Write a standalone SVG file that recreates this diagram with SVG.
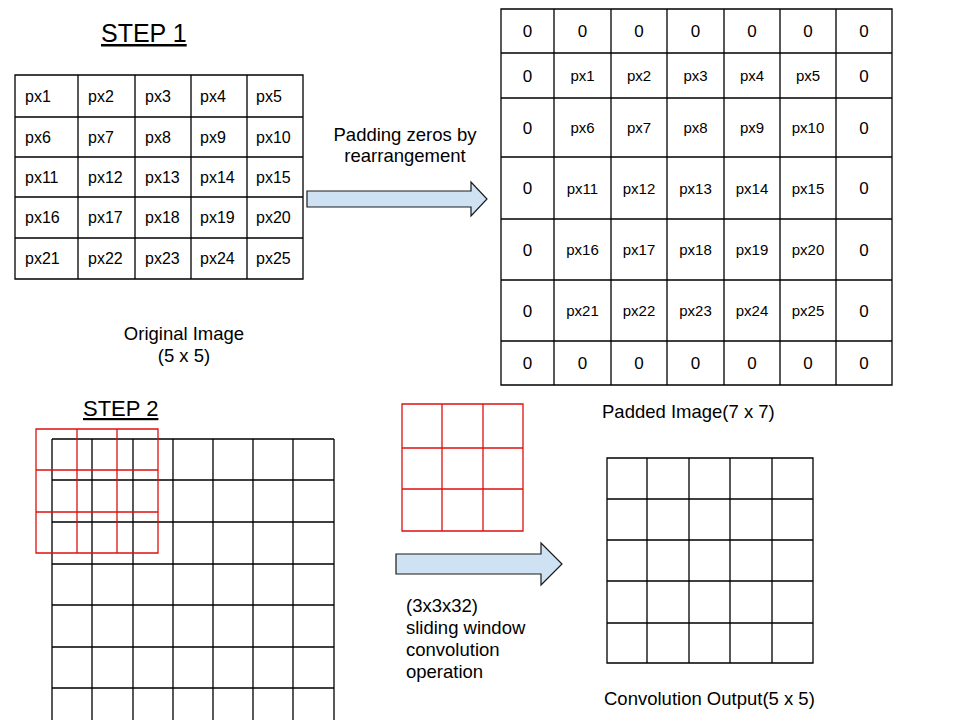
<svg xmlns="http://www.w3.org/2000/svg" width="960" height="720" viewBox="0 0 960 720">
<style>
text{font-family:"Liberation Sans",Arial,sans-serif;fill:#000}
.g{fill:none;stroke:#000;stroke-width:1.3}
.r{fill:none;stroke:#dd1010;stroke-width:1.3}
.arr{fill:#cfe2f3;stroke:#1a1a1a;stroke-width:1.2}
.t16{font-size:16px}
.p15{font-size:15px;text-anchor:middle}
.z17{font-size:17px;text-anchor:middle}
.lbl{font-size:18.5px}
.step{font-size:22px;text-decoration:underline}
</style>
<rect width="960" height="720" fill="#fff"/>

<g id="step1-title"><text class="step" x="101" y="42" style="font-size:25px">STEP 1</text></g>

<g id="original-image">
<path class="g" d="M15,75H303V279H15Z M78,75V279 M135,75V279 M191,75V279 M247,75V279 M15,117H303 M15,157H303 M15,197H303 M15,238H303"/>
<g class="t16">
<text x="25" y="102">px1</text><text x="88" y="102">px2</text><text x="145" y="102">px3</text><text x="200" y="102">px4</text><text x="256" y="102">px5</text>
<text x="25" y="142.5">px6</text><text x="88" y="142.5">px7</text><text x="145" y="142.5">px8</text><text x="200" y="142.5">px9</text><text x="256" y="142.5">px10</text>
<text x="25" y="182.5">px11</text><text x="88" y="182.5">px12</text><text x="145" y="182.5">px13</text><text x="200" y="182.5">px14</text><text x="256" y="182.5">px15</text>
<text x="25" y="223">px16</text><text x="88" y="223">px17</text><text x="145" y="223">px18</text><text x="200" y="223">px19</text><text x="256" y="223">px20</text>
<text x="25" y="264">px21</text><text x="88" y="264">px22</text><text x="145" y="264">px23</text><text x="200" y="264">px24</text><text x="256" y="264">px25</text>
</g>
</g>
<g id="original-label">
<text class="lbl" x="184" y="340" text-anchor="middle">Original Image</text>
<text class="lbl" x="184" y="362" text-anchor="middle">(5 x 5)</text>
</g>

<g id="padded-image">
<path class="g" d="M501,9H892V385H501Z M554,9V385 M611,9V385 M667,9V385 M724,9V385 M780,9V385 M836,9V385 M501,53H892 M501,98H892 M501,157H892 M501,219H892 M501,280H892 M501,341H892"/>
<g class="z17">
<text x="527.5" y="37">0</text><text x="582.5" y="37">0</text><text x="639" y="37">0</text><text x="695.5" y="37">0</text><text x="752" y="37">0</text><text x="808" y="37">0</text><text x="864" y="37">0</text>
<text x="527.5" y="81.5">0</text><text x="864" y="81.5">0</text>
<text x="527.5" y="133.5">0</text><text x="864" y="133.5">0</text>
<text x="527.5" y="194">0</text><text x="864" y="194">0</text>
<text x="527.5" y="255.5">0</text><text x="864" y="255.5">0</text>
<text x="527.5" y="316.5">0</text><text x="864" y="316.5">0</text>
<text x="527.5" y="369">0</text><text x="582.5" y="369">0</text><text x="639" y="369">0</text><text x="695.5" y="369">0</text><text x="752" y="369">0</text><text x="808" y="369">0</text><text x="864" y="369">0</text>
</g>
<g class="p15">
<text x="582.5" y="81">px1</text><text x="639" y="81">px2</text><text x="695.5" y="81">px3</text><text x="752" y="81">px4</text><text x="808" y="81">px5</text>
<text x="582.5" y="133">px6</text><text x="639" y="133">px7</text><text x="695.5" y="133">px8</text><text x="752" y="133">px9</text><text x="808" y="133">px10</text>
<text x="582.5" y="193.5">px11</text><text x="639" y="193.5">px12</text><text x="695.5" y="193.5">px13</text><text x="752" y="193.5">px14</text><text x="808" y="193.5">px15</text>
<text x="582.5" y="255">px16</text><text x="639" y="255">px17</text><text x="695.5" y="255">px18</text><text x="752" y="255">px19</text><text x="808" y="255">px20</text>
<text x="582.5" y="316">px21</text><text x="639" y="316">px22</text><text x="695.5" y="316">px23</text><text x="752" y="316">px24</text><text x="808" y="316">px25</text>
</g>
</g>
<g id="padded-label"><text class="lbl" x="602" y="418">Padded Image(7 x 7)</text></g>

<g id="step2-title"><text class="step" x="83" y="416">STEP 2</text></g>

<g id="step2-grid">
<path class="g" d="M52,439H334 M52,480H334 M52,522H334 M52,564H334 M52,605H334 M52,647H334 M52,688H334 M52,439V720 M92,439V720 M133,439V720 M173,439V720 M213,439V720 M253,439V720 M293,439V720 M334,439V720"/>
</g>
<g id="window-overlay">
<path class="r" d="M36,429H158V553H36Z M77,429V553 M117,429V553 M36,470H158 M36,512H158"/>
</g>

<g id="kernel">
<path class="r" d="M402,404H523V531H402Z M442,404V531 M483,404V531 M402,448H523 M402,489H523"/>
</g>

<g id="output-grid">
<path class="g" d="M607,458H813V663H607Z M647,458V663 M689,458V663 M730,458V663 M772,458V663 M607,499H813 M607,540H813 M607,581H813 M607,623H813"/>
</g>
<g id="output-label"><text class="lbl" x="604" y="705">Convolution Output(5 x 5)</text></g>

<g id="connectors">
<path class="arr" d="M307,191H471V182L487,199L471,216V207H307Z"/>
<path class="arr" d="M396,554H541V543L562,564L541,585V574H396Z"/>
</g>

<g id="arrow1-label">
<text class="lbl" x="405" y="141" text-anchor="middle">Padding zeros by</text>
<text class="lbl" x="405" y="162" text-anchor="middle">rearrangement</text>
</g>
<g id="arrow2-label" class="lbl">
<text x="406" y="612">(3x3x32)</text>
<text x="406" y="634">sliding window</text>
<text x="406" y="656">convolution</text>
<text x="406" y="678">operation</text>
</g>
</svg>
